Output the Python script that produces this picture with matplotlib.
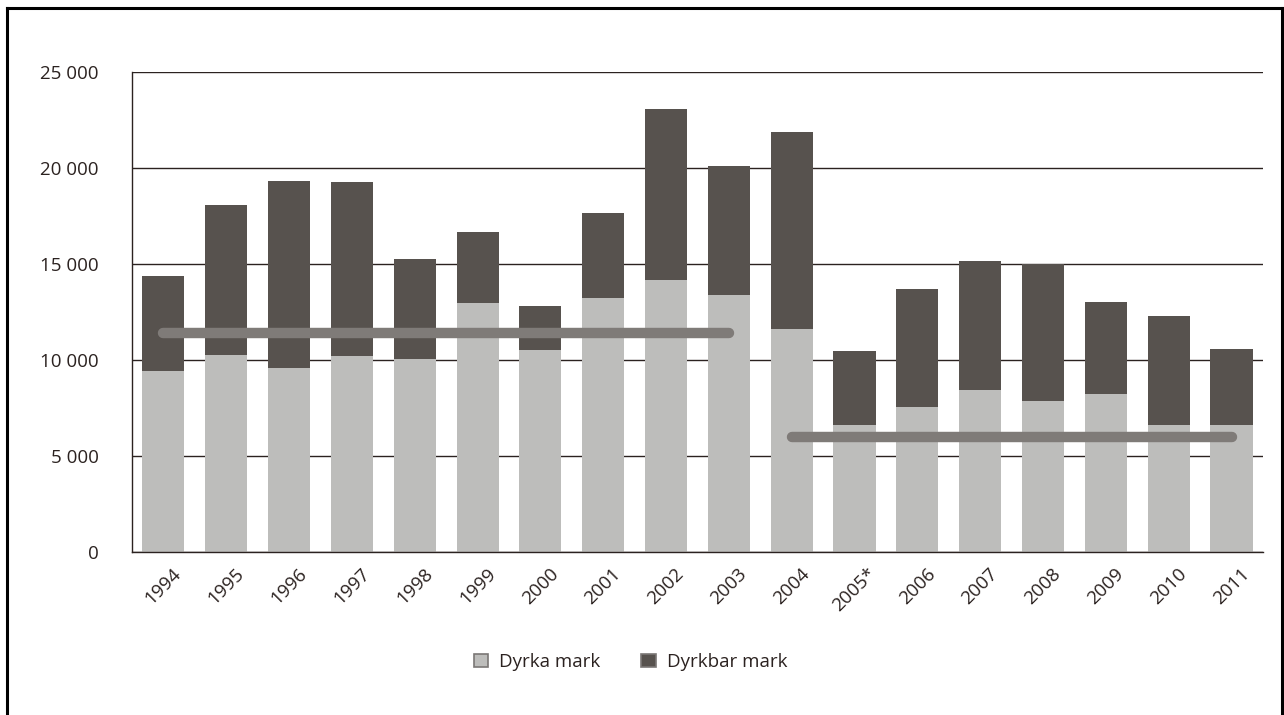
import numpy as np
import matplotlib.pyplot as plt
from matplotlib.lines import Line2D
from matplotlib.patches import Patch

plt.rcParams['font.family'] = ['Open Sans', 'DejaVu Sans']

years = ['1994', '1995', '1996', '1997', '1998', '1999', '2000', '2001', '2002',
         '2003', '2004', '2005*', '2006', '2007', '2008', '2009', '2010', '2011']
dyrka = [9430, 10260, 9600, 10210, 10030, 12950, 10500, 13250, 14170,
         13390, 11600, 6600, 7570, 8440, 7850, 8230, 6610, 6600]
total = [14380, 18060, 19320, 19250, 15260, 16650, 12800, 17670, 23060,
         20100, 21860, 10490, 13700, 15160, 15000, 13020, 12270, 10570]
dyrkbar = [t - d for t, d in zip(total, dyrka)]

# average lines: (first bar index, last bar index, level)
avg_lines = [(0, 9, 11380), (10, 17, 6000)]

c_dyrka = '#bdbdbb'
c_dyrkbar = '#57524e'
c_avg = '#7f7b78'
c_text = '#2b2220'

fig = plt.figure(figsize=(12.84, 7.15), dpi=100)
ax = fig.add_axes([0.1028, 0.228, 0.8808, 0.6713])

x = np.arange(len(years))
ax.bar(x, dyrka, width=0.67, color=c_dyrka, zorder=2, label='Dyrka mark')
ax.bar(x, dyrkbar, bottom=dyrka, width=0.67, color=c_dyrkbar, zorder=2,
       label='Dyrkbar mark')

for i0, i1, lvl in avg_lines:
    ax.plot([x[i0], x[i1]], [lvl, lvl], color=c_avg, lw=7.5,
            solid_capstyle='round', zorder=3)

ax.set_xlim(-0.5, len(years) - 0.5)
ax.set_ylim(0, 25000)
ax.set_yticks(np.arange(0, 25001, 5000))
ax.set_yticklabels([f'{v:,}'.replace(',', ' ') for v in range(0, 25001, 5000)])
ax.set_xticks(x)
ax.set_xticklabels(years, rotation=45)
ax.tick_params(axis='both', length=0, colors=c_text, labelsize=13.5)
ax.tick_params(axis='y', pad=24)
ax.tick_params(axis='x', pad=9)
ax.grid(axis='y', color=c_text, lw=1.0, zorder=1)
for s in ['top', 'right']:
    ax.spines[s].set_visible(False)
for s in ['left', 'bottom']:
    ax.spines[s].set_color(c_text)
    ax.spines[s].set_linewidth(1.0)

handles = [Patch(facecolor=c_dyrka, edgecolor='#7a7775', lw=1.2),
           Patch(facecolor=c_dyrkbar, edgecolor='#7a7775', lw=1.2)]
leg = fig.legend(handles, ['Dyrka mark', 'Dyrkbar mark'], loc='center',
                 bbox_to_anchor=(0.491, 0.074), ncol=2, frameon=False,
                 handlelength=0.75, handleheight=0.75, handletextpad=0.6,
                 columnspacing=2.2, fontsize=13.5)
for t in leg.get_texts():
    t.set_color(c_text)

# frame around figure (top, left, right)
fig.add_artist(Line2D([0.0055, 0.0055], [0, 0.9885], color='black', lw=2.2,
                      transform=fig.transFigure))
fig.add_artist(Line2D([0.0055, 0.9985], [0.9885, 0.9885], color='black', lw=2.2,
                      transform=fig.transFigure))
fig.add_artist(Line2D([0.9985, 0.9985], [0, 0.9885], color='black', lw=2.2,
                      transform=fig.transFigure))

fig.savefig('out.png', dpi=100)
